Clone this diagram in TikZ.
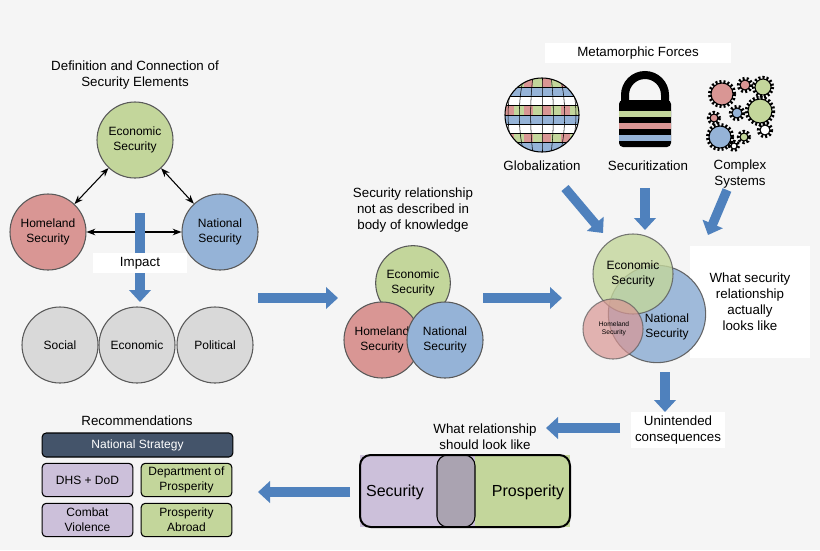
\documentclass[tikz,border=0pt]{standalone}
\usepackage{fontspec}
\setmainfont{Liberation Sans}
\usetikzlibrary{shapes.arrows,calc,arrows.meta}
\definecolor{econ}{HTML}{C3D69B}
\definecolor{home}{HTML}{D99694}
\definecolor{natl}{HTML}{95B3D7}
\definecolor{soc}{HTML}{D9D9D9}
\definecolor{purp}{HTML}{CCC0DA}
\definecolor{blk}{HTML}{4F81BD}
\definecolor{navy}{HTML}{44546A}
\tikzset{
  elem/.style={circle, draw=gray!70!black, thick, minimum size=#1, align=center, font=\small},
  lbl/.style={fill=white, align=center, inner sep=3pt},
  rec/.style={draw=black, thick, rounded corners=3pt, minimum width=68pt, minimum height=25pt, align=center, font=\small, inner sep=1pt},
  blkarrow/.style={line width=7pt, draw=blk, -{Triangle[length=9pt,width=16pt]}},
}
\begin{document}
\begin{tikzpicture}[x=0.75pt,y=-0.75pt]
    \fill[gray!8] (0,0) rectangle (820,550);
    \useasboundingbox (0,0) rectangle (820,550);

    % Elements de securite
    \node[align=center] (titre) at (135,75) {Definition and Connection of\\Security Elements};
    \node[elem=57pt, fill=econ] (eco) at (135,140) {Economic\\Security};
    \node[elem=57pt, fill=home] (hom) at (48,232) {Homeland\\Security};
    \node[elem=57pt, fill=natl] (nat) at (220,232) {National\\Security};
    \draw[<->, thick, >=Stealth] (eco) -- (hom);
    \draw[<->, thick, >=Stealth] (eco) -- (nat);
    \draw[<->, thick, >=Stealth] (hom) -- (nat);

    % Impact
    \coordinate (i1) at (140,213);
    \coordinate (i2) at (140,302);
    \draw[blkarrow] (i1) -- (i2);
    \node[lbl, minimum width=70pt] (impact) at (140,263) {Impact};
    \node[elem=57pt, fill=soc] (soci) at (60,345) {Social};
    \node[elem=57pt, fill=soc] (econ2) at (137,345) {Economic};
    \node[elem=57pt, fill=soc] (poli) at (215,345) {Political};

    % Relation decrite
    \coordinate (a1) at (258,298);
    \coordinate (a2) at (338,298);
    \draw[blkarrow] (a1) -- (a2);
    \node[align=center] (desc) at (413,210) {Security relationship\\not as described in\\body of knowledge};
    \node[elem=56pt, fill=econ] (veco) at (413,283) {Economic\\Security};
    \node[elem=57pt, fill=home] (vhom) at (382,340) {Homeland\\Security};
    \node[elem=57pt, fill=natl] (vnat) at (445,340) {National\\Security};
    \coordinate (b1) at (483,298);
    \coordinate (b2) at (562,298);
    \draw[blkarrow] (b1) -- (b2);

    % Forces metamorphiques
    \node[lbl, minimum width=140pt] (forces) at (638,53) {Metamorphic Forces};
    \begin{scope}
      \clip (542,115) circle (37);
      \foreach \i in {0,...,7} {
        \foreach \j in {0,...,7} {
          \pgfmathtruncatemacro\m{mod(\i*3+\j*2,6)}
          \ifcase\m\relax
            \def\col{home}\or\def\col{white}\or\def\col{natl}\or\def\col{econ}\or\def\col{white}\or\def\col{natl}\fi
          \fill[\col] (505+\i*9.25,78+\j*9.25) rectangle ++(9.25,9.25);
        }
      }
      \foreach \k in {-27.75,-18.5,-9.25,0,9.25,18.5,27.75} {
        \draw[black] (542+\k,78) .. controls (542+\k*1.3,100) and (542+\k*1.3,130) .. (542+\k,152);
        \draw[black] (505,115+\k) -- (579,115+\k);
      }
    \end{scope}
    \draw[thick] (542,115) circle (37);
    \node (glob) at (542,166) {Globalization};
    \draw[line width=6pt] (625,103) -- (625,95) arc (180:360:20) -- (665,103);
    \fill[black, rounded corners=3pt] (619,100) rectangle (671,147);
    \fill[econ] (619,111) rectangle (671,117);
    \fill[home] (619,123) rectangle (671,129);
    \fill[natl] (619,135) rectangle (671,141);
    \node (secu) at (648,166) {Securitization};
    \foreach \x/\y/\r/\c in {722/94/11/home, 745/85/5/home, 763/87/8/econ, 760/111/12/econ, 737/113/5/natl, 714/118/4/home, 720/137/11/natl, 744/137/4/econ, 765/130/5/white, 734/146/3/white} {
      \draw[black, line width=2.5pt, dash pattern=on 1.5pt off 1.5pt] (\x,\y) circle (\r+1.5);
      \draw[black, fill=\c, thick] (\x,\y) circle (\r);
    }
    \node[align=center] (cplx) at (740,174) {Complex\\Systems};
    \coordinate (c1) at (565,188);
    \coordinate (c2) at (603,233);
    \coordinate (d1) at (645,188);
    \coordinate (d2) at (645,230);
    \coordinate (e1) at (727,190);
    \coordinate (e2) at (708,235);
    \draw[blkarrow] (c1) -- (c2);
    \draw[blkarrow] (d1) -- (d2);
    \draw[blkarrow] (e1) -- (e2);

    % Relation reelle
    \node[lbl, minimum width=90pt, minimum height=84pt] (actual) at (750,302) {What security\\relationship\\actually\\looks like};
    \node[elem=73pt, fill=natl, opacity=.9] (rnat) at (657,314) {};
    \node[elem=60pt, fill=econ, opacity=.8] (reco) at (633,274) {};
    \node[elem=45pt, fill=home, opacity=.7] (rhom) at (613,329) {};
    \node[align=center, font=\small] (tnat) at (667,327) {National\\Security};
    \node[align=center, font=\small] (teco) at (633,274) {Economic\\Security};
    \node[align=center, font=\tiny] (thom) at (614,329) {Homeland\\Security};
    \coordinate (f1) at (665,372);
    \coordinate (f2) at (665,412);
    \draw[blkarrow] (f1) -- (f2);
    \node[lbl] (unint) at (678,430) {Unintended\\consequences};
    \coordinate (g1) at (620,428);
    \coordinate (g2) at (546,428);
    \draw[blkarrow] (g1) -- (g2);

    % Relation souhaitee
    \node[align=center] (should) at (485,437) {What relationship\\should look like};
    \fill[econ] (437,455) rectangle (570,527);
    \fill[purp] (360,455) rectangle (475,527);
    \draw[thick, rounded corners=8pt, fill=gray!45!purp] (437,455) rectangle (475,527);
    \draw[line width=1.5pt, rounded corners=8pt] (360,455) rectangle (570,527);
    \node[font=\large] (tsec) at (395,492) {Security};
    \node[font=\large] (tpro) at (528,492) {Prosperity};
    \coordinate (h1) at (350,492);
    \coordinate (h2) at (258,492);
    \draw[blkarrow] (h1) -- (h2);

    % Recommandations
    \node (recom) at (137,421) {Recommendations};
    \node[rec, fill=navy, text=white, minimum width=143pt, minimum height=18pt] (strat) at (137.5,445) {National Strategy};
    \node[rec, fill=purp] (dhs) at (87.5,480) {DHS + DoD};
    \node[rec, fill=econ] (dep) at (186.5,480) {Department of\\Prosperity};
    \node[rec, fill=purp] (comb) at (87.5,520) {Combat\\Violence};
    \node[rec, fill=econ] (abr) at (186.5,520) {Prosperity\\Abroad};
\end{tikzpicture}
\end{document}
